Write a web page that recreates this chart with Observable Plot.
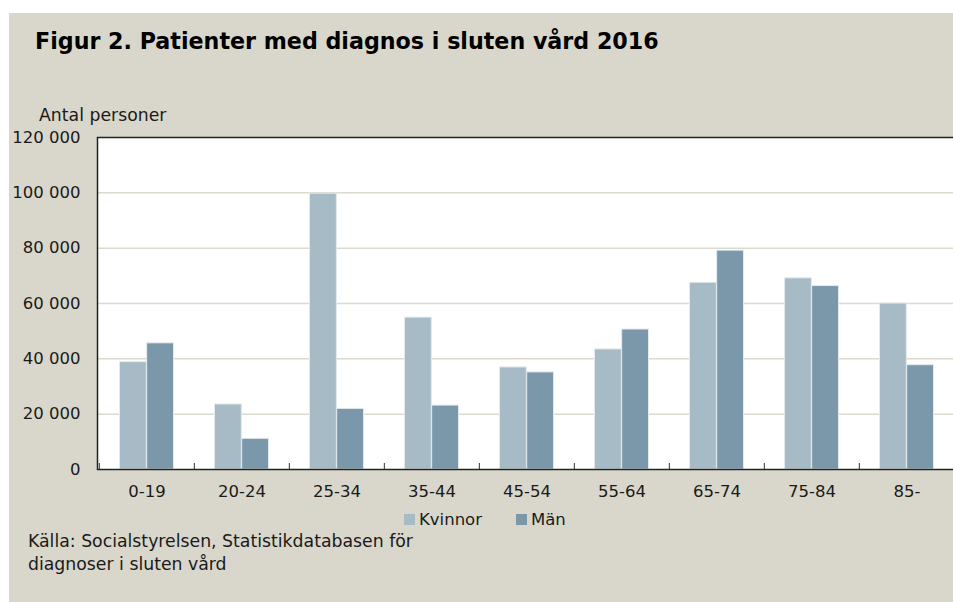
<!DOCTYPE html>
<html>
<head>
<meta charset="utf-8">
<script src="https://cdn.jsdelivr.net/npm/d3@7"></script>
<script src="https://cdn.jsdelivr.net/npm/@observablehq/plot@0.6"></script>
<style>
  html, body { margin: 0; padding: 0; background: #ffffff; width: 953px; height: 602px; overflow: hidden; position: relative; }
  #page { position: absolute; left: 9px; top: 13px; width: 960px; height: 600px; background: #d9d7cb; }
  .abs { position: absolute; font-family: "DejaVu Sans", sans-serif; color: #1a1a1a; white-space: nowrap; }
  #title { left: 35px; top: 28px; font-size: 22.2px; font-weight: 700; color: #000; }
  #ylabel { left: 39px; top: 105px; font-size: 17.3px; }
  #chart { position: absolute; left: 0; top: 100px; width: 960px; }
  #chart svg { max-width: none !important; }
  #legend { left: 404px; top: 510px; font-size: 16.5px; display: flex; align-items: center; }
  #legend .sw { display: inline-block; width: 11px; height: 11px; margin-right: 4px; }
  #legend .item { display: flex; align-items: center; margin-right: 34px; }
  #caption { left: 28px; top: 530px; font-size: 17.3px; line-height: 23px; }
</style>
</head>
<body>
<div id="page"></div>
<div class="abs" id="title">Figur 2. Patienter med diagnos i sluten vård 2016</div>
<div class="abs" id="ylabel">Antal personer</div>
<div id="chart"></div>
<div class="abs" id="legend"></div>
<div class="abs" id="caption">Källa: Socialstyrelsen, Statistikdatabasen för<br>diagnoser i sluten vård</div>
<script>
const ages = ["0-19", "20-24", "25-34", "35-44", "45-54", "55-64", "65-74", "75-84", "85-"];
const kvinnor = [38800, 23500, 99700, 54900, 36900, 43400, 67500, 69100, 60000];
const man = [45600, 11100, 21900, 23100, 35100, 50600, 79100, 66300, 37700];
const seriesNames = ["Kvinnor", "Män"];
const seriesColors = ["#a7bbc6", "#7b98ab"];
const yTicks = [0, 20000, 40000, 60000, 80000, 100000, 120000];

const data = ages.map((a, i) => ({age: a, kvinnor: kvinnor[i], man: man[i]}));

const width = 960, height = 420;
const marginLeft = 97, marginRight = 5, marginTop = 37, marginBottom = 51;
const step = (width - marginLeft - marginRight) / ages.length;
const barW = step * 0.285;
const groupLeft = (step - 2 * barW) / 2;

const fmt = d => d3.format(",")(d).replace(/,/g, " ");

const chart = Plot.plot({
  width, height, marginLeft, marginRight, marginTop, marginBottom,
  style: {background: "transparent", fontFamily: "'DejaVu Sans', sans-serif", fontSize: "16.5px", color: "#1a1a1a", maxWidth: "none"},
  x: {domain: ages, padding: 0, label: null},
  y: {domain: [0, 120000], label: null},
  marks: [
    Plot.frame({fill: "#ffffff"}),
    Plot.gridY(yTicks.filter(d => d > 0 && d < 120000), {stroke: "#dcd9ce", strokeOpacity: 1, strokeWidth: 1.5}),
    Plot.barY(data, {x: "age", y: "kvinnor", fill: seriesColors[0], stroke: "#e3eaee", strokeWidth: 1,
      insetLeft: groupLeft, insetRight: step - groupLeft - barW}),
    Plot.barY(data, {x: "age", y: "man", fill: seriesColors[1], stroke: "#e3eaee", strokeWidth: 1,
      insetLeft: groupLeft + barW, insetRight: groupLeft}),
    Plot.axisY({ticks: yTicks, tickFormat: fmt, tickSize: 0, tickPadding: 17, label: null}),
    Plot.axisX({tickSize: 0, tickPadding: 16, label: null}),
    Plot.axisX({tickSize: -6, text: null, dx: -step / 2, stroke: "#333", label: null}),
    Plot.frame({stroke: "#222", strokeWidth: 1.5})
  ]
});
document.getElementById("chart").appendChild(chart);

const legend = document.getElementById("legend");
seriesNames.forEach((n, i) => {
  const item = document.createElement("span");
  item.className = "item";
  item.innerHTML = `<span class="sw" style="background:${seriesColors[i]}"></span>${n}`;
  legend.appendChild(item);
});
</script>
</body>
</html>
